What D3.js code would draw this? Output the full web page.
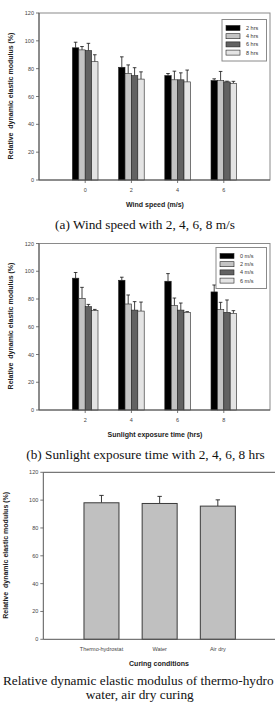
<!DOCTYPE html>
<html>
<head>
<meta charset="utf-8">
<script src="https://cdn.jsdelivr.net/npm/d3@7"></script>
<style>
  body { margin: 0; background: #fff; }
  svg text { font-family: Arial, "Liberation Sans", sans-serif; }
  .caption { font-family: "Liberation Serif", "Times New Roman", serif !important; fill: #111; }
</style>
</head>
<body>
<div id="chart"></div>
<script>
// Datos
// (a) velocidad del viento, series = horas de exposición
const windSpeeds = [0, 2, 4, 6];
const hrsSeries = ['2 hrs', '4 hrs', '6 hrs', '8 hrs'];
const windMeans = [
    [95, 81, 75, 71.5],
    [93.5, 76.5, 72, 71.5],
    [93, 75, 72, 70.5],
    [85, 72.5, 70.5, 69.5]
];
const windErrs = [
    [4, 7.5, 1.5, 1.2],
    [2.4, 6.2, 6.2, 6.5],
    [5.2, 5.7, 5, 0.5],
    [5, 5.2, 8.5, 1.4]
];

// (b) tiempo de exposición solar, series = velocidad del viento
const sunHours = [2, 4, 6, 8];
const windSeries = ['0 m/s', '2 m/s', '4 m/s', '6 m/s'];
const sunMeans = [
    [95, 93.5, 92.8, 85.1],
    [80.5, 76.4, 75.2, 72.3],
    [74.5, 72, 72, 70.4],
    [71.6, 71.3, 70.4, 69.6]
];
const sunErrs = [
    [4.1, 2.2, 5.5, 5],
    [7.9, 6.5, 5.5, 5.3],
    [1.6, 6.1, 5.1, 8.9],
    [0.9, 6.5, 0.5, 2]
];

// (c) condiciones de curado
const curing = ['Thermo-hydrostat', 'Water', 'Air dry'];
const curingMeans = [98.1, 97.6, 95.7];
const curingErrs = [5.3, 5.1, 4.5];

const yTicks = [0, 20, 40, 60, 80, 100, 120];

//Colores fijos
const SERIES_COLORS = ['#000000', '#c4c4c4', '#626262', '#e4e4e4'];
const AXIS_COLOR = '#555',
    FRAME_COLOR = '#8a8a8a',
    TICK_TEXT = '#444';
const CAPTION_SIZE = 13.3;

const svg = d3.select('#chart')
    .append('svg')
    .attr('width', 275)
    .attr('height', 706);

function yAxis(g, y, left) {
    g.append('line')
        .attr('x1', left).attr('x2', left)
        .attr('y1', y(0)).attr('y2', y(120))
        .attr('stroke', AXIS_COLOR).attr('stroke-width', 1);
    let t = g.selectAll('.yt').data(yTicks).enter().append('g');
    t.append('line')
        .attr('x1', left - 3).attr('x2', left)
        .attr('y1', d => y(d)).attr('y2', d => y(d))
        .attr('stroke', AXIS_COLOR).attr('stroke-width', 0.8);
    t.append('text')
        .attr('x', left - 5).attr('y', d => y(d) + 2)
        .attr('text-anchor', 'end')
        .attr('font-size', 5.5)
        .attr('fill', TICK_TEXT)
        .text(d => d);
}

function yLabel(cx, cy) {
    svg.append('text')
        .attr('transform', 'translate(' + cx + ',' + cy + ') rotate(-90)')
        .attr('text-anchor', 'middle')
        .attr('font-size', 7)
        .attr('font-weight', 'bold')
        .attr('fill', '#222')
        .attr('xml:space', 'preserve')
        .text('Relative  dynamic elastic modulus (%)');
}

function drawGrouped(opt) {
    let g = svg.append('g');

    let x = d3.scaleLinear().domain(opt.xDomain).range([opt.left, opt.right]);
    let y = d3.scaleLinear().domain([0, 120]).range([opt.bottom, opt.top]);

    // marco
    g.append('rect')
        .attr('x', opt.left).attr('y', y(120))
        .attr('width', opt.right - opt.left).attr('height', y(0) - y(120))
        .attr('fill', 'none').attr('stroke', FRAME_COLOR).attr('stroke-width', 1);

    let inner = d3.scaleBand()
        .domain(d3.range(opt.series.length))
        .range([-12.8, 12.8]);

    opt.series.forEach(function(s, si) {
        let sg = g.append('g');
        let rows = opt.cats.map((c, ci) => ({ c: c, v: opt.means[si][ci], e: opt.errs[si][ci] }));
        // barras de error
        sg.selectAll('.err').data(rows).enter().append('path')
            .attr('d', function(d) {
                let cx = x(d.c) + inner(si) + inner.bandwidth() / 2;
                return 'M' + cx + ',' + y(d.v) + 'V' + y(d.v + d.e) +
                    'M' + (cx - 1.8) + ',' + y(d.v + d.e) + 'H' + (cx + 1.8);
            })
            .attr('stroke', '#111').attr('stroke-width', 0.8).attr('fill', 'none');
        sg.selectAll('rect').data(rows).enter().append('rect')
            .attr('x', d => x(d.c) + inner(si))
            .attr('y', d => y(d.v))
            .attr('width', inner.bandwidth())
            .attr('height', d => y(0) - y(d.v))
            .attr('fill', SERIES_COLORS[si])
            .attr('stroke', '#222')
            .attr('stroke-width', 0.6);
    });

    // ejes
    g.append('line')
        .attr('x1', opt.left).attr('x2', opt.right)
        .attr('y1', y(0)).attr('y2', y(0))
        .attr('stroke', AXIS_COLOR).attr('stroke-width', 1);
    let xt = g.selectAll('.xt').data(opt.cats).enter().append('g');
    xt.append('line')
        .attr('x1', d => x(d)).attr('x2', d => x(d))
        .attr('y1', y(0)).attr('y2', y(0) + 3)
        .attr('stroke', AXIS_COLOR).attr('stroke-width', 0.8);
    xt.append('text')
        .attr('x', d => x(d)).attr('y', y(0) + 12)
        .attr('text-anchor', 'middle')
        .attr('font-size', 5.5)
        .attr('fill', TICK_TEXT)
        .text(d => d);
    yAxis(g, y, opt.left);

    // leyenda
    let lg = g.append('g');
    lg.append('rect')
        .attr('x', opt.legend.x).attr('y', opt.legend.y)
        .attr('width', opt.legend.w).attr('height', opt.legend.h)
        .attr('fill', '#fff').attr('stroke', FRAME_COLOR).attr('stroke-width', 1);
    let li = lg.selectAll('.li').data(opt.series).enter().append('g')
        .attr('transform', (d, i) => 'translate(' + (opt.legend.x + 4) + ',' + (opt.legend.y + 8.5 + i * 8.2) + ')');
    li.append('rect')
        .attr('x', 0).attr('y', -2.5)
        .attr('width', 14).attr('height', 5)
        .attr('fill', (d, i) => SERIES_COLORS[i])
        .attr('stroke', '#222').attr('stroke-width', 0.6);
    li.append('text')
        .attr('x', 20).attr('y', 2)
        .attr('font-size', 5.5)
        .attr('fill', '#333')
        .text(d => d);

    svg.append('text')
        .attr('x', 155).attr('y', opt.bottom + 26.5)
        .attr('text-anchor', 'middle')
        .attr('font-size', 7)
        .attr('font-weight', 'bold')
        .attr('fill', '#222')
        .text(opt.xTitle);

    yLabel(13, opt.bottom - 84);

    svg.append('text')
        .attr('class', 'caption')
        .attr('x', opt.captionX).attr('y', opt.bottom + 48.5)
        .attr('text-anchor', 'middle')
        .attr('font-size', CAPTION_SIZE)
        .text(opt.caption);
}

drawGrouped({
    cats: windSpeeds, series: hrsSeries, means: windMeans, errs: windErrs,
    xDomain: [-2, 8], left: 39, right: 270, top: 13, bottom: 180,
    legend: { x: 222, y: 19.5, w: 44.5, h: 41.5 },
    xTitle: 'Wind speed (m/s)',
    caption: '(a) Wind speed with 2, 4, 6, 8 m/s', captionX: 145
});

drawGrouped({
    cats: sunHours, series: windSeries, means: sunMeans, errs: sunErrs,
    xDomain: [0, 10], left: 39, right: 270, top: 243.5, bottom: 410,
    legend: { x: 216, y: 247.5, w: 50.5, h: 41 },
    xTitle: 'Sunlight exposure time (hrs)',
    caption: '(b) Sunlight exposure time with 2, 4, 6, 8 hrs', captionX: 145.5
});

// (c) barras simples
(function() {
    let g = svg.append('g');
    let left = 43.3, right = 276, top = 472.3, bottom = 639.3;
    let x = d3.scaleLinear().domain([-1, 3]).range([left, right]);
    let y = d3.scaleLinear().domain([0, 120]).range([bottom, top]);
    let bw = 35;

    g.append('line')
        .attr('x1', left).attr('x2', 275)
        .attr('y1', y(120)).attr('y2', y(120))
        .attr('stroke', AXIS_COLOR).attr('stroke-width', 1);

    let rows = curing.map((c, i) => ({ i: i, c: c, v: curingMeans[i], e: curingErrs[i] }));

    g.selectAll('.err').data(rows).enter().append('path')
        .attr('d', d => 'M' + x(d.i) + ',' + y(d.v) + 'V' + y(d.v + d.e) +
            'M' + (x(d.i) - 2.2) + ',' + y(d.v + d.e) + 'H' + (x(d.i) + 2.2))
        .attr('stroke', '#222').attr('stroke-width', 0.9).attr('fill', 'none');

    g.selectAll('.bar').data(rows).enter().append('rect')
        .attr('x', d => x(d.i) - bw / 2)
        .attr('y', d => y(d.v))
        .attr('width', bw)
        .attr('height', d => y(0) - y(d.v))
        .attr('fill', '#c0c0c0')
        .attr('stroke', '#3a3a3a')
        .attr('stroke-width', 1);

    g.append('line')
        .attr('x1', left).attr('x2', 275)
        .attr('y1', y(0)).attr('y2', y(0))
        .attr('stroke', AXIS_COLOR).attr('stroke-width', 1);
    yAxis(g, y, left);

    g.selectAll('.xl').data(rows).enter().append('text')
        .attr('x', d => x(d.i)).attr('y', y(0) + 12)
        .attr('text-anchor', 'middle')
        .attr('font-size', 5.5)
        .attr('fill', TICK_TEXT)
        .text(d => d.c);

    svg.append('text')
        .attr('x', 159).attr('y', y(0) + 26.5)
        .attr('text-anchor', 'middle')
        .attr('font-size', 7)
        .attr('font-weight', 'bold')
        .attr('fill', '#222')
        .text('Curing conditions');

    yLabel(8, bottom - 84);

    // el pie de figura del original queda cortado en el borde
    svg.append('text')
        .attr('class', 'caption')
        .attr('x', 3).attr('y', 685)
        .attr('font-size', CAPTION_SIZE)
        .text('Relative dynamic elastic modulus of thermo-hydro');
    svg.append('text')
        .attr('class', 'caption')
        .attr('x', 139.7).attr('y', 699)
        .attr('text-anchor', 'middle')
        .attr('font-size', CAPTION_SIZE)
        .text('water, air dry curing');
})();
</script>
</body>
</html>
